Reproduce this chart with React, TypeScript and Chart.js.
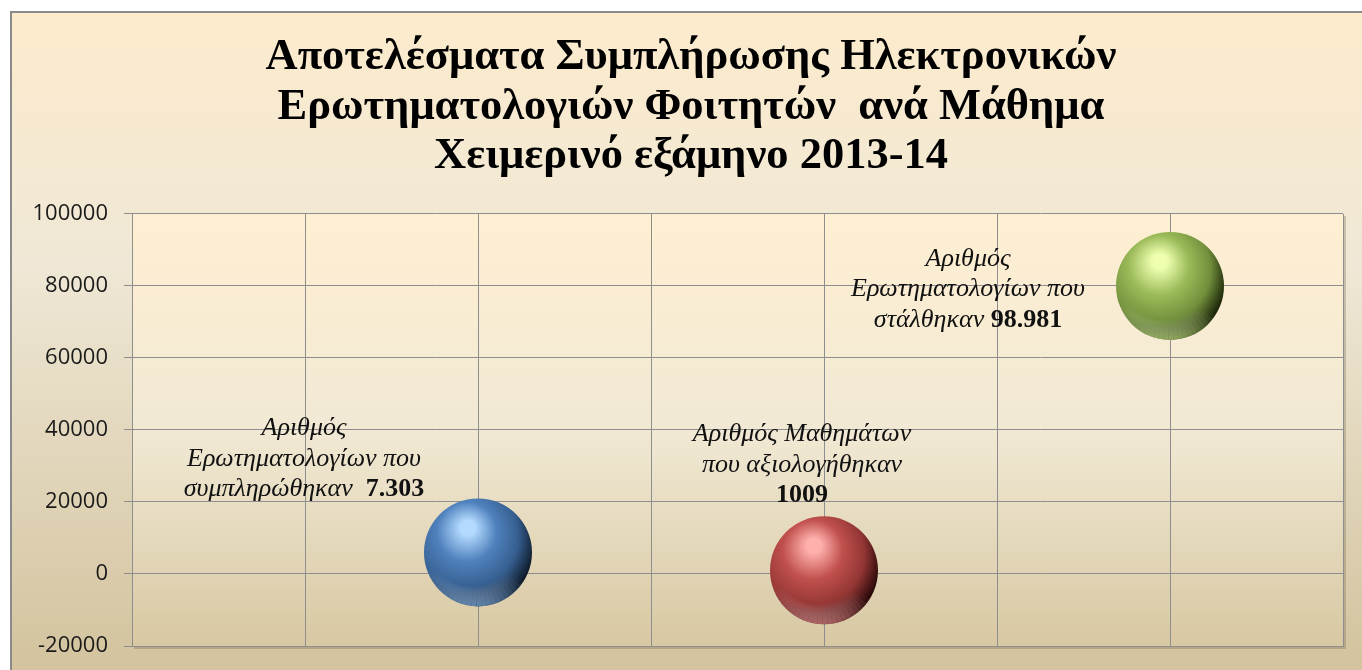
import React, { useEffect, useRef } from "react";
import { Chart, registerables } from "chart.js";

Chart.register(...registerables);

// ---------------- data ----------------
const titleLines = [
  "Αποτελέσματα Συμπλήρωσης Ηλεκτρονικών",
  "Ερωτηματολογιών Φοιτητών  ανά Μάθημα",
  "Χειμερινό εξάμηνο 2013-14",
];
const xValues = [1, 2, 3];
const yValues = [6000, 1009, 80000];
const bubbleSizes = [1, 1, 1];
const labelLines: string[][] = [
  ["Αριθμός", "Ερωτηματολογίων που", "συμπληρώθηκαν  "],
  ["Αριθμός Μαθημάτων", "που αξιολογήθηκαν", ""],
  ["Αριθμός", "Ερωτηματολογίων που", "στάλθηκαν "],
];
const valueLabels = ["7.303", "1009", "98.981"];
const yMin = -20000;
const yMax = 100000;
const yStep = 20000;
const xMin = 0;
const xMax = 3.5;
const xStep = 0.5;

// ---------------- styles ----------------
const BUBBLE_R = 54;
const sphereColors = [
  { light: "#b4dbff", base: "#4f81bd", mid: "#365f90", dark: "#0f1b2b", rim: "#8fc0f5" },
  { light: "#ffb0ad", base: "#c0504d", mid: "#933634", dark: "#2a0909", rim: "#f29a97" },
  { light: "#efffb0", base: "#9bbb59", mid: "#72903c", dark: "#1c260a", rim: "#d3f08f" },
];
const labelOffsets = [
  { dx: -174, dy: -117 },
  { dx: -22, dy: -129 },
  { dx: -202, dy: -20 },
];
const LABEL_LINE_H = 30.5;
const LABEL_ITALIC = "italic 26px 'Liberation Serif'";
const LABEL_BOLD = "bold 26px 'Liberation Serif'";
const GRID = "#8e8e8e";
const TITLE_CENTER_X = 691;

const backgroundPlugin = {
  id: "bgPlugin",
  afterLayout(chart: any) {
    const tb = chart.titleBlock;
    if (tb) {
      const half = (tb.right - tb.left) / 2;
      tb.left = TITLE_CENTER_X - half;
      tb.right = TITLE_CENTER_X + half;
    }
  },
  beforeDraw(chart: any) {
    const { ctx, width, height, chartArea } = chart;
    ctx.save();
    ctx.fillStyle = "#ffffff";
    ctx.fillRect(0, 0, width, height);
    const g = ctx.createLinearGradient(0, 12, 0, height);
    g.addColorStop(0, "#fdebcc");
    g.addColorStop(0.38, "#efe8d6");
    g.addColorStop(1, "#d3c39e");
    ctx.fillStyle = g;
    ctx.fillRect(11, 12, width - 11, height - 12);
    ctx.strokeStyle = "#8a8a8a";
    ctx.lineWidth = 2;
    ctx.beginPath();
    ctx.moveTo(11, height);
    ctx.lineTo(11, 12);
    ctx.lineTo(width, 12);
    ctx.stroke();
    const { left, top, right, bottom } = chartArea;
    const pg = ctx.createLinearGradient(0, top, 0, bottom);
    pg.addColorStop(0, "#ffefd2");
    pg.addColorStop(0.5, "#f1e9d4");
    pg.addColorStop(1, "#d8c8a3");
    ctx.fillStyle = pg;
    ctx.fillRect(left, top, right - left, bottom - top);
    ctx.strokeStyle = "rgba(110,100,80,0.3)";
    ctx.lineWidth = 2;
    ctx.beginPath();
    ctx.moveTo(right + 2, top + 2);
    ctx.lineTo(right + 2, bottom + 2);
    ctx.lineTo(left + 2, bottom + 2);
    ctx.stroke();
    ctx.restore();
  },
};

const sphereOverlayPlugin = {
  id: "sphereOverlay",
  afterDatasetsDraw(chart: any) {
    const { ctx } = chart;
    const meta = chart.getDatasetMeta(0);
    meta.data.forEach((el: any, i: number) => {
      const col = sphereColors[i % sphereColors.length];
      const r = el.options.radius;
      const { x, y } = el;
      ctx.save();
      ctx.beginPath();
      ctx.arc(x, y, r, 0, Math.PI * 2);
      ctx.clip();
      // reflected light along the lower rim, fading out towards the sides
      const g = ctx.createRadialGradient(x - 0.1 * r, y - 0.15 * r, 0.78 * r, x - 0.1 * r, y - 0.15 * r, 1.12 * r);
      g.addColorStop(0, "rgba(255,255,255,0)");
      g.addColorStop(1, col.rim);
      ctx.fillStyle = g;
      const steps = 24;
      for (let k = 0; k < steps; k++) {
        const a0 = Math.PI * 0.18 + (k / steps) * Math.PI * 0.72;
        const a1 = Math.PI * 0.18 + ((k + 1) / steps) * Math.PI * 0.72;
        const mid = (k + 0.5) / steps;
        ctx.globalAlpha = 0.6 * Math.sin(mid * Math.PI);
        ctx.beginPath();
        ctx.moveTo(x, y);
        ctx.arc(x, y, r + 1, a0, a1);
        ctx.closePath();
        ctx.fill();
      }
      ctx.restore();
    });
  },
};

const labelPlugin = {
  id: "labelPlugin",
  afterDatasetsDraw(chart: any) {
    const { ctx } = chart;
    const meta = chart.getDatasetMeta(0);
    ctx.save();
    ctx.fillStyle = "#111";
    ctx.textBaseline = "alphabetic";
    ctx.textAlign = "left";
    meta.data.forEach((el: any, i: number) => {
      const off = labelOffsets[i];
      const lines = labelLines[i];
      const cx = el.x + off.dx;
      lines.forEach((line, j) => {
        const y = el.y + off.dy + j * LABEL_LINE_H;
        const val = j === lines.length - 1 ? valueLabels[i] : "";
        ctx.font = LABEL_ITALIC;
        const w1 = ctx.measureText(line).width;
        ctx.font = LABEL_BOLD;
        const w2 = val ? ctx.measureText(val).width : 0;
        const sx = cx - (w1 + w2) / 2;
        ctx.font = LABEL_ITALIC;
        ctx.fillText(line, sx, y);
        if (val) {
          ctx.font = LABEL_BOLD;
          ctx.fillText(val, sx + w1, y);
        }
      });
    });
    ctx.restore();
  },
};

function sphereFill(context: any) {
  const i = context.dataIndex ?? 0;
  const col = sphereColors[i % sphereColors.length];
  const chart = context.chart;
  const xs = chart.scales?.x;
  const ys = chart.scales?.y;
  const raw = context.raw;
  if (!xs || !ys || !raw || context.type !== "data") return col.base;
  const cx = xs.getPixelForValue(raw.x);
  const cy = ys.getPixelForValue(raw.y);
  const r = raw.r;
  if (!Number.isFinite(cx) || !Number.isFinite(cy) || !Number.isFinite(r)) return col.base;
  const g = chart.ctx.createRadialGradient(
    cx - 0.18 * r, cy - 0.48 * r, 0,
    cx - 0.25 * r, cy - 0.25 * r, 1.32 * r
  );
  g.addColorStop(0, col.light);
  g.addColorStop(0.1, col.light);
  g.addColorStop(0.42, col.base);
  g.addColorStop(0.74, col.mid);
  g.addColorStop(1, col.dark);
  return g;
}

export default function App() {
  const ref = useRef<HTMLCanvasElement | null>(null);
  useEffect(() => {
    if (!ref.current) return;
    const chart = new Chart(ref.current, {
      type: "bubble",
      data: {
        datasets: [
          {
            label: "Σειρά",
            data: xValues.map((x, i) => ({ x, y: yValues[i], r: bubbleSizes[i] * BUBBLE_R })),
            backgroundColor: sphereFill as any,
            borderWidth: 0,
            clip: false as any,
          },
        ],
      },
      options: {
        responsive: false,
        animation: false,
        layout: { autoPadding: false, padding: { top: 12, left: 0, right: 19, bottom: 24 } },
        plugins: {
          legend: { display: false },
          tooltip: { enabled: false },
          title: {
            display: true,
            text: titleLines,
            color: "#000",
            font: { family: "'Liberation Serif'", size: 44.5, weight: "bold", lineHeight: 1.112 },
            padding: { top: 21, bottom: 32.5 },
          },
        },
        scales: {
          x: {
            type: "linear",
            min: xMin,
            max: xMax,
            ticks: { display: false, stepSize: xStep },
            grid: { color: GRID, drawTicks: false, lineWidth: 1 },
            border: { color: GRID },
            afterFit: (s: any) => {
              s.height = 0;
              s.paddingLeft = 0;
              s.paddingRight = 0;
            },
          },
          y: {
            min: yMin,
            max: yMax,
            ticks: {
              stepSize: yStep,
              color: "#1a1a1a",
              padding: 16,
              font: { family: "'Open Sans'", size: 22 },
              callback: (v: any) => String(v),
            },
            grid: { color: GRID, tickLength: 8, lineWidth: 1 },
            border: { color: GRID },
            afterFit: (s: any) => {
              s.width = 132;
              s.paddingTop = 0;
              s.paddingBottom = 0;
            },
          },
        },
      },
      plugins: [backgroundPlugin, sphereOverlayPlugin, labelPlugin],
    });
    return () => chart.destroy();
  }, []);
  return (
    <div style={{ position: "absolute", left: 0, top: 0, width: 1362, height: 670 }}>
      <canvas ref={ref} width={1362} height={670} style={{ display: "block", width: 1362, height: 670 }} />
    </div>
  );
}
